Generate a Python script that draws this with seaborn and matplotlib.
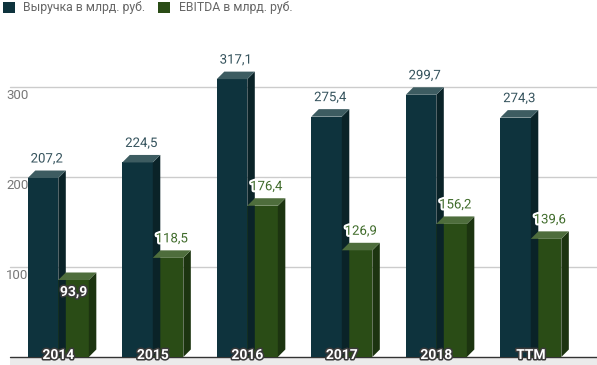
import pandas as pd
import matplotlib
matplotlib.use("Agg")
import matplotlib.pyplot as plt
import matplotlib.patheffects as pe
from matplotlib.patches import Polygon, Rectangle
import seaborn as sns

# data
years = ["2014", "2015", "2016", "2017", "2018", "TTM"]
revenue = [207.2, 224.5, 317.1, 275.4, 299.7, 274.3]
ebitda = [93.9, 118.5, 176.4, 126.9, 156.2, 139.6]
series_names = ["Выручка в млрд. руб.", "EBITDA в млрд. руб."]

# colours: front / top / side faces, label colour
front_cols = ["#0e333d", "#2a4c16"]
top_cols = ["#3d5c61", "#4e6d3c"]
side_cols = ["#0a2328", "#1c3410"]
label_cols = ["#34525c", "#3f6b2a"]

sns.set_style("white")
plt.rcParams["font.family"] = ["Roboto", "DejaVu Sans"]

df = pd.DataFrame({
    "year": years * 2,
    "value": revenue + ebitda,
    "series": [series_names[0]] * len(years) + [series_names[1]] * len(years),
})

W, H = 597, 365
fig = plt.figure(figsize=(W / 100, H / 100), dpi=100)
ax = fig.add_axes([0, 0, 1, 1])

# pixel geometry -> data units
px_per_unit_y = 0.9
px_per_cat = 94.5
base_px = 8  # distance of zero line from bottom edge
depth_px = 7.5
dxu = depth_px / px_per_cat
dyu = depth_px / px_per_unit_y

sns.barplot(data=df, x="year", y="value", hue="series", palette=front_cols,
            width=0.646, saturation=1, linewidth=0, legend=False, ax=ax, zorder=3)

ax.set_xlim(-58.3 / px_per_cat, (W - 58.3) / px_per_cat)
ax.set_ylim(-base_px / px_per_unit_y, (H - base_px) / px_per_unit_y)
ax.axis("off")

# gridlines and y labels
for v in [100, 200, 300]:
    ax.axhline(v, xmin=10 / W, xmax=1, color="#cccccc", lw=1, zorder=1)
    ax.text(6 / W, v - 2 / px_per_unit_y, str(v), transform=ax.get_yaxis_transform(),
            ha="left", va="top", fontsize=9.5, color="#777777", zorder=1)

# floor band and base line
ax.axhspan(-base_px / px_per_unit_y, 0, xmin=10 / W, xmax=1, color="#ebebeb", lw=0, zorder=1)
ax.axhline(0, xmin=10 / W, xmax=1, color="#333333", lw=1, zorder=2)

halo = [pe.withStroke(linewidth=3, foreground="white")]
dark_halo = [pe.withStroke(linewidth=2.2, foreground="#3a3a3a")]

for s, cont in enumerate(ax.containers):
    for i, p in enumerate(cont.patches):
        x0, w, v = p.get_x(), p.get_width(), p.get_height()
        p.set_height(v - dyu)
        x1 = x0 + w
        top = Polygon([(x0, v - dyu), (x1, v - dyu), (x1 + dxu, v), (x0 + dxu, v)],
                      closed=True, facecolor=top_cols[s], lw=0, zorder=3)
        side = Polygon([(x1, 0), (x1 + dxu, dyu), (x1 + dxu, v), (x1, v - dyu)],
                       closed=True, facecolor=side_cols[s], lw=0, zorder=3)
        ax.add_patch(side)
        ax.add_patch(top)
        txt = f"{v:.1f}".replace(".", ",")
        cx = x0 + w / 2 + dxu / 2
        if s == 1 and years[i] == "2014":
            ax.text(x0 + w / 2, v - dyu - 5 / px_per_unit_y, txt, ha="center", va="top",
                    fontsize=10, fontweight="bold", color="white",
                    path_effects=dark_halo, zorder=5)
        else:
            ax.text(cx, v + 5 / px_per_unit_y, txt, ha="center", va="bottom",
                    fontsize=9.5, color=label_cols[s], path_effects=halo, zorder=5)

# category labels sitting on the base line
for i, y in enumerate(years):
    ax.text(i, 2 / px_per_unit_y, y, ha="center", va="center", fontsize=10,
            fontweight="bold", color="white", path_effects=dark_halo, zorder=6)

# legend along the top edge
for name, col, sq_x, txt_x in zip(series_names, front_cols, [3, 158], [23, 179]):
    fig.patches.append(Rectangle((sq_x / W, 1 - 13 / H), 12 / W, 11 / H,
                                 transform=fig.transFigure, facecolor=col, lw=0))
    fig.text(txt_x / W, 1 - 8 / H, name, ha="left", va="center",
             fontsize=8.8, color="#666666")

fig.savefig("out.png", dpi=100)
